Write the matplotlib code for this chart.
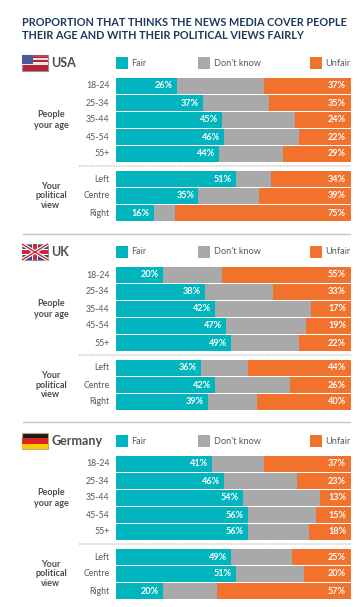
import matplotlib
matplotlib.use("Agg")
import matplotlib.pyplot as plt
from matplotlib.patches import Rectangle

plt.rcParams['font.family'] = ['Lato', 'DejaVu Sans']

W, H = 358, 607
title_lines = ["PROPORTION THAT THINKS THE NEWS MEDIA COVER PEOPLE",
               "THEIR AGE AND WITH THEIR POLITICAL VIEWS FAIRLY"]
rows = ["18-24", "25-34", "35-44", "45-54", "55+", "Left", "Centre", "Right"]
series_names = ["Fair", "Don't know", "Unfair"]
countries = ["USA", "UK", "Germany"]

usa_fair = [26, 37, 45, 46, 44, 51, 35, 16]
usa_dk = [37, 28, 31, 32, 27, 15, 26, 9]
usa_unfair = [37, 35, 24, 22, 29, 34, 39, 75]
uk_fair = [20, 38, 42, 47, 49, 36, 42, 39]
uk_dk = [25, 29, 41, 34, 29, 20, 32, 21]
uk_unfair = [55, 33, 17, 19, 22, 44, 26, 40]
de_fair = [41, 46, 54, 56, 56, 49, 51, 20]
de_dk = [22, 31, 33, 29, 26, 26, 29, 23]
de_unfair = [37, 23, 13, 15, 18, 25, 20, 57]

TEAL, GREY, ORANGE = "#00b5bd", "#a9a9a9", "#f1722c"
NAVY, TEXT = "#1c3a5e", "#55585a"
panel_data = [(usa_fair, usa_dk, usa_unfair), (uk_fair, uk_dk, uk_unfair), (de_fair, de_dk, de_unfair)]
panel_first_row = [86, 275, 464]   # centre pixel of first bar
header_y = [63, 252, 441]
STEP = 17.0
GAP = 25.0
row_y = [0, 1, 2, 3, 4, 4 + GAP / STEP, 5 + GAP / STEP, 6 + GAP / STEP]

fig = plt.figure(figsize=(W / 100, H / 100), dpi=100, facecolor="white")
pg = fig.add_axes([0, 0, 1, 1], zorder=0)
pg.set_xlim(0, W); pg.set_ylim(H, 0); pg.axis("off")

for i, line in enumerate(title_lines):
    pg.text(22.5, 22 + 13.3 * i, line, color=NAVY, fontsize=7.85, fontweight="bold", va="center", ha="left")


def flag(kind, top):
    x0, w, h = 22, 26, 16
    if kind == "USA":
        pg.add_patch(Rectangle((x0, top), w, h, fc="#b5243a", ec="#9a8f95", lw=0.8))
        pg.add_patch(Rectangle((x0, top + 7), w, 3, fc="#f0e6e6", ec="none"))
        pg.add_patch(Rectangle((x0, top), w, 2, fc="#b5485a", ec="none"))
        pg.add_patch(Rectangle((x0, top + 3), w, 1.5, fc="#e8dcdc", ec="none"))
        pg.add_patch(Rectangle((x0, top), 11, 9, fc="#4a5a9a", ec="none"))
    elif kind == "UK":
        pg.add_patch(Rectangle((x0, top), w, h, fc="#2f4a86", ec="#9a8f95", lw=0.8))
        pg.plot([x0, x0 + w], [top, top + h], color="white", lw=2.6, solid_capstyle="butt")
        pg.plot([x0, x0 + w], [top + h, top], color="white", lw=2.6, solid_capstyle="butt")
        pg.plot([x0, x0 + w], [top, top + h], color="#c8283c", lw=1.0, solid_capstyle="butt")
        pg.plot([x0, x0 + w], [top + h, top], color="#c8283c", lw=1.0, solid_capstyle="butt")
        pg.add_patch(Rectangle((x0 + 10, top), 6, h, fc="white", ec="none"))
        pg.add_patch(Rectangle((x0, top + 5), w, 6, fc="white", ec="none"))
        pg.add_patch(Rectangle((x0 + 11.2, top), 3.6, h, fc="#c8283c", ec="none"))
        pg.add_patch(Rectangle((x0, top + 6.2), w, 3.6, fc="#c8283c", ec="none"))
    else:
        pg.add_patch(Rectangle((x0, top), w, h, fc="#1a1a1a", ec="#b9a878", lw=0.8))
        pg.add_patch(Rectangle((x0, top + 5.3), w, 5.4, fc="#d9261c", ec="none"))
        pg.add_patch(Rectangle((x0, top + 10.7), w, 5.3, fc="#fbcb0a", ec="none"))


LEG_X = [116, 198, 310]
LEG_TX = [131.5, 214, 325.5]
LEG_C = [TEAL, GREY, ORANGE]

for p, (name, data) in enumerate(zip(countries, panel_data)):
    hy = header_y[p]
    flag(name, hy - 8)
    pg.text(51, hy + 0.3, name, color="#4a4d50", fontsize=9.0, fontweight="bold", va="center", ha="left")
    for lx, tx, c, s in zip(LEG_X, LEG_TX, LEG_C, series_names):
        pg.add_patch(Rectangle((lx, hy - 6), 12, 12, fc=c, ec="none"))
        pg.text(tx, hy, s, color=TEXT, fontsize=6.6, va="center", ha="left")

    y0 = panel_first_row[p]
    top_px = y0 - 8.5
    height_px = row_y[-1] * STEP + 17
    ax = fig.add_axes([116 / W, 1 - (top_px + height_px) / H, 235 / W, height_px / H], zorder=2)
    ax.set_xlim(0, 100)
    ax.set_ylim(row_y[-1] + 0.5, -0.5)
    ax.axis("off")
    ax.patch.set_alpha(0)
    fair, dk, unfair = data
    left_dk = [a for a in fair]
    left_un = [a + b for a, b in zip(fair, dk)]
    ax.barh(row_y, fair, height=16 / 17, color=TEAL, lw=0)
    ax.barh(row_y, dk, left=left_dk, height=16 / 17, color=GREY, lw=0)
    ax.barh(row_y, unfair, left=left_un, height=16 / 17, color=ORANGE, lw=0)
    for y, f, u, lu in zip(row_y, fair, unfair, left_un):
        ax.text(f - 1.7, y, f"{f}%", color="white", fontsize=6.6, fontweight="bold", ha="right", va="center")
        ax.text(lu + u - 2.1, y, f"{u}%", color="white", fontsize=6.6, fontweight="bold", ha="right", va="center")
    for y, lab in zip(row_y, rows):
        pg.text(109.5, y0 + y * STEP, lab, color=TEXT, fontsize=6.3, ha="right", va="center")
    pg.text(51, y0 + 34, "People\nyour age", color="#4a4d50", fontsize=6.5, fontweight="bold",
            ha="center", va="center", linespacing=1.15)
    pg.text(51, y0 + 110, "Your\npolitical\nview", color="#4a4d50", fontsize=6.5, fontweight="bold",
            ha="center", va="center", linespacing=1.1)
    pg.plot([79, 351], [y0 + 80, y0 + 80], color="#cccccc", lw=1.1, ls=(0, (1, 0.6)))

for y in (233.5, 422):
    pg.plot([23, 350], [y, y], color="#c4c4c4", lw=1.0)

fig.savefig("out.png", dpi=100, facecolor="white")
